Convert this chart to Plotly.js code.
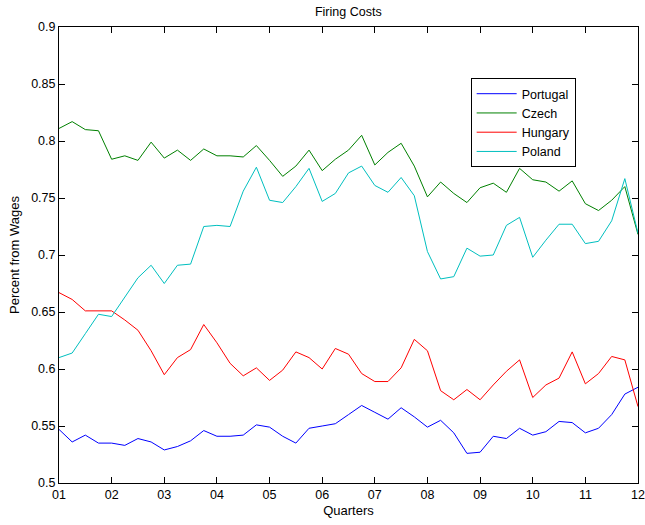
<!DOCTYPE html>
<html>
<head>
<meta charset="utf-8">
<script src="https://cdn.plot.ly/plotly-3.0.1.min.js"></script>
<style>html,body{margin:0;padding:0;background:#fff;}#chart{width:645px;height:525px;}</style>
</head>
<body>
<div id="chart"></div>
<script>
// Quarter index 0..44 (2001Q1 .. 2012Q1)
const quarters = Array.from({length: 45}, (_, i) => i);
const yearTickVals = [0, 4, 8, 12, 16, 20, 24, 28, 32, 36, 40, 44];
const yearTickText = ['01','02','03','04','05','06','07','08','09','10','11','12'];

const portugal = [0.547,0.536,0.542,0.535,0.535,0.533,0.539,0.536,0.529,0.532,0.537,0.546,0.541,0.541,0.542,0.551,0.549,0.541,0.535,0.548,0.550,0.552,0.560,0.568,0.562,0.556,0.566,0.558,0.549,0.555,0.544,0.526,0.527,0.541,0.539,0.548,0.542,0.545,0.554,0.553,0.544,0.548,0.560,0.578,0.584];
const czech = [0.811,0.817,0.810,0.809,0.784,0.787,0.783,0.799,0.785,0.792,0.783,0.793,0.787,0.787,0.786,0.796,0.783,0.769,0.778,0.792,0.774,0.784,0.792,0.805,0.779,0.790,0.798,0.778,0.751,0.764,0.754,0.746,0.759,0.763,0.755,0.776,0.766,0.764,0.756,0.765,0.745,0.739,0.748,0.760,0.718];
const hungary = [0.667,0.661,0.651,0.651,0.651,0.643,0.634,0.616,0.595,0.610,0.617,0.639,0.623,0.605,0.594,0.601,0.590,0.599,0.615,0.610,0.600,0.618,0.613,0.596,0.589,0.589,0.601,0.626,0.616,0.581,0.573,0.582,0.573,0.586,0.598,0.608,0.575,0.586,0.592,0.615,0.587,0.596,0.611,0.608,0.567];
const poland = [0.610,0.614,0.631,0.648,0.646,0.663,0.680,0.691,0.675,0.691,0.692,0.725,0.726,0.725,0.756,0.777,0.748,0.746,0.760,0.776,0.747,0.754,0.772,0.778,0.761,0.755,0.768,0.752,0.703,0.679,0.681,0.706,0.699,0.700,0.726,0.733,0.698,0.713,0.727,0.727,0.710,0.712,0.730,0.767,0.719];

const seriesNames = ['Portugal','Czech','Hungary','Poland'];
const seriesValues = [portugal, czech, hungary, poland];
const seriesColors = ['#0000ff','#008000','#ff0000','#00bfbf'];

const traces = seriesNames.map((name, k) => ({
  x: quarters,
  y: seriesValues[k],
  name: name,
  type: 'scatter',
  mode: 'lines',
  line: {color: seriesColors[k], width: 1}
}));

const fontFam = '"Liberation Sans", Arial, Helvetica, sans-serif';

const layout = {
  width: 645,
  height: 525,
  paper_bgcolor: '#ffffff',
  plot_bgcolor: '#ffffff',
  font: {family: fontFam, size: 13, color: '#000'},
  margin: {l: 59, r: 7.3, t: 27, b: 41.7, pad: 0},
  title: {text: 'Firing Costs', font: {family: fontFam, size: 12.5, color: '#000'}, x: 0.54, xanchor: 'center', y: 1 - 12/525, yanchor: 'middle'},
  showlegend: true,
  legend: {
    x: 0.711, y: 0.888, xanchor: 'left', yanchor: 'top',
    bgcolor: '#ffffff', bordercolor: '#000', borderwidth: 1,
    font: {family: fontFam, size: 12.5, color: '#000'},
    itemwidth: 40,
    tracegroupgap: 0
  },
  xaxis: {
    range: [0, 44],
    tickmode: 'array', tickvals: yearTickVals, ticktext: yearTickText,
    ticks: 'inside', ticklen: 6, tickwidth: 1, tickcolor: '#000',
    showline: true, linecolor: '#000', linewidth: 1, mirror: 'ticks',
    showgrid: false, zeroline: false,
    tickfont: {family: fontFam, size: 12.5, color: '#000'},
    title: {text: 'Quarters', font: {family: fontFam, size: 13, color: '#000'}, standoff: 4}
  },
  yaxis: {
    range: [0.5, 0.9],
    tickmode: 'array', tickvals: [0.5,0.55,0.6,0.65,0.7,0.75,0.8,0.85,0.9],
    ticktext: ['0.5','0.55','0.6','0.65','0.7','0.75','0.8','0.85','0.9'],
    ticks: 'inside', ticklen: 6, tickwidth: 1, tickcolor: '#000',
    showline: true, linecolor: '#000', linewidth: 1, mirror: 'ticks',
    showgrid: false, zeroline: false,
    tickfont: {family: fontFam, size: 12.5, color: '#000'},
    title: {text: 'Percent from Wages', font: {family: fontFam, size: 13, color: '#000'}, standoff: 8}
  }
};

Plotly.newPlot('chart', traces, layout, {displayModeBar: false, staticPlot: true});
</script>
</body>
</html>
